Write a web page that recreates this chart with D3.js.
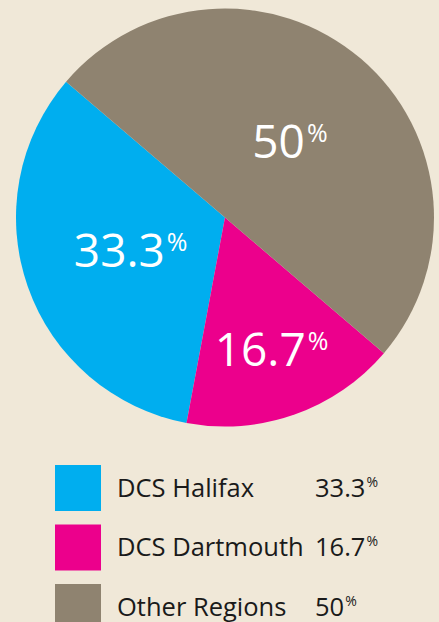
<!DOCTYPE html>
<html>
<head>
<meta charset="utf-8">
<script src="https://cdn.jsdelivr.net/npm/d3@7"></script>
<style>
  html, body { margin: 0; padding: 0; background: #f0e8d8; }
  svg { display: block; font-family: "Open Sans", sans-serif; }
</style>
</head>
<body>
<svg id="chart" width="439" height="622"></svg>
<script>
// Share of clients by region
var categories = ["DCS Halifax", "DCS Dartmouth", "Other Regions"];
var values = [33.3, 16.7, 50];
var valueLabels = ["33.3", "16.7", "50"];
var colors = ["#00aeef", "#ec008c", "#8f8370"];

var svg = d3.select("#chart");

var cx = 225, cy = 217.5, radius = 209;

var data = categories.map((c, i) => ({name: c, value: values[i], label: valueLabels[i]}));

// slices run counter-clockwise from the upper left
var pie = d3.pie()
    .sort(null)
    .value((d) => d.value)
    .startAngle(-49.5 * Math.PI / 180)
    .endAngle(-409.5 * Math.PI / 180);

var arc = d3.arc()
    .innerRadius(0)
    .outerRadius(radius);

var colorScale = d3.scaleOrdinal()
    .domain(categories)
    .range(colors);

var g = svg.append("g")
    .attr("transform", "translate(" + cx + "," + cy + ")");

var arcs = pie(data);

g.selectAll("path")
    .data(arcs)
    .enter()
    .append("path")
    .attr("d", arc)
    .attr("fill", (d) => colorScale(d.data.name));

// small slices get their label further out
var labelArc = (d) => {
    var r = d.data.value < 20 ? 140 : 100;
    return d3.arc().innerRadius(r).outerRadius(r).centroid(d);
};

var labels = g.selectAll("text.slice")
    .data(arcs)
    .enter()
    .append("text")
    .attr("class", "slice")
    .attr("transform", (d) => {
        var p = labelArc(d);
        return "translate(" + p[0] + "," + (p[1] + 16.5) + ")";
    })
    .attr("text-anchor", "middle")
    .attr("fill", "#ffffff");

labels.append("tspan")
    .attr("font-size", 46)
    .text((d) => d.data.label);

labels.append("tspan")
    .attr("font-size", 25)
    .attr("dy", -16)
    .attr("dx", 2)
    .text("%");

// legend
var legendY = d3.scaleBand()
    .domain(categories)
    .range([465, 465 + 3 * 59.5])
    .paddingInner(0.22)
    .paddingOuter(0.11)
    .align(0);

var legend = svg.selectAll("g.legend")
    .data(data)
    .enter()
    .append("g")
    .attr("class", "legend")
    .attr("transform", (d) => "translate(0," + legendY(d.name) + ")");

legend.append("rect")
    .attr("x", 55)
    .attr("y", 0)
    .attr("width", 46)
    .attr("height", 46)
    .attr("fill", (d) => colorScale(d.name));

legend.append("text")
    .attr("x", 117)
    .attr("y", 31.5)
    .attr("font-size", 25.5)
    .attr("fill", "#1a1a1a")
    .text((d) => d.name);

var legendVal = legend.append("text")
    .attr("x", 315)
    .attr("y", 31.5)
    .attr("fill", "#1a1a1a");

legendVal.append("tspan")
    .attr("font-size", 25.5)
    .text((d) => d.label);

legendVal.append("tspan")
    .attr("font-size", 14)
    .attr("dy", -10)
    .attr("dx", 1)
    .text("%");
</script>
</body>
</html>
